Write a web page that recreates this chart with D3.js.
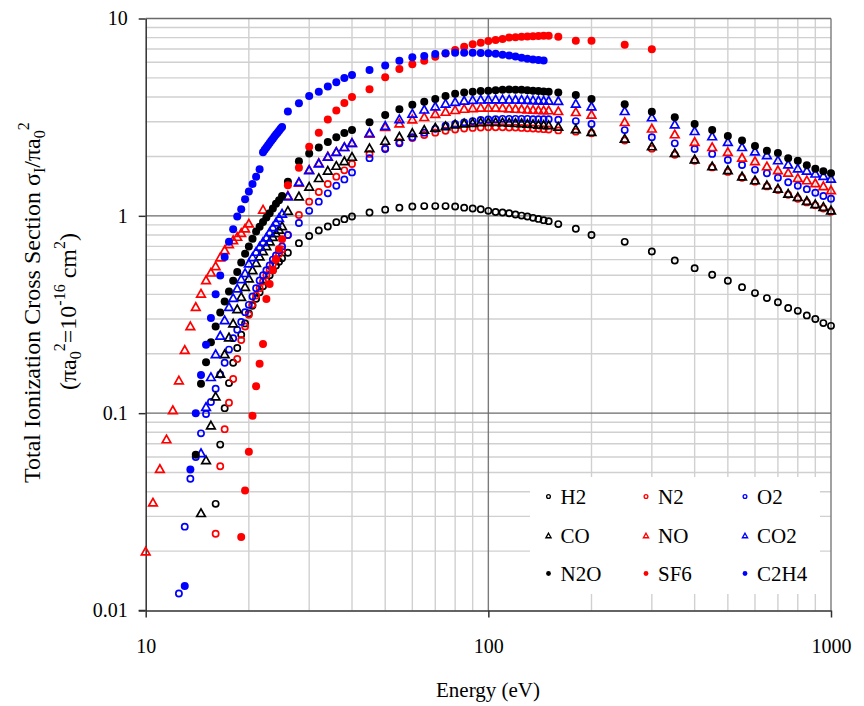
<!DOCTYPE html>
<html>
<head>
<meta charset="utf-8">
<script src="https://cdn.jsdelivr.net/npm/d3@7"></script>
<style>
  body { margin: 0; background: #fff; }
</style>
</head>
<body>
<svg id="chart" width="864" height="706"></svg>
<script>
// Electron energies (eV) shared by the series
const ENERGY_LOW = [10, 10.5, 11, 11.5, 12, 12.5, 13, 13.5, 14, 14.5, 15, 15.5, 16, 16.5, 17, 17.5,
  18, 18.5, 19, 19.5, 20, 20.5, 21, 21.5, 22, 22.5, 23, 23.5, 24, 24.5, 25];
const ENERGY_MID = [26, 28, 30, 32, 34, 36, 38, 40, 45, 50, 55, 60, 65, 70, 75, 80, 85, 90, 95, 100,
  105, 110, 115, 120, 125, 130, 135, 140, 145, 150];
const ENERGY_HIGH = [160, 180, 200, 250, 300, 350, 400, 450, 500, 550, 600, 650, 700, 750, 800, 850,
  900, 950, 1000];
const ENERGY_NO_LOW = [10, 10.5, 11, 11.5, 12, 12.5, 13, 13.5, 14, 14.5, 15, 15.5, 16, 16.5, 17, 17.5,
  18, 18.5, 19, 19.5, 20, 22];
const ENERGY_C2H4_LOW = [13, 13.5, 14, 14.5, 15, 15.5, 16, 16.5, 17, 17.5, 18, 18.5, 19, 19.5, 20,
  20.5, 21, 21.5, 22, 22.25, 22.5, 22.75, 23, 23.25, 23.5, 23.75, 24, 24.25, 24.5, 24.75, 25];

// Total ionization cross sections (units of pi a0^2)
const H2_LOW = [0.0347, 0.0693, 0.106, 0.142, 0.18, 0.214, 0.25, 0.285, 0.32, 0.35, 0.38, 0.41, 0.44,
  0.47, 0.5, 0.53, 0.56, 0.585, 0.61];
const H2_MID = [0.65, 0.727, 0.79, 0.842, 0.883, 0.929, 0.962, 0.992, 1.04, 1.075, 1.1, 1.115, 1.12,
  1.12, 1.12, 1.115, 1.1, 1.09, 1.08, 1.06, 1.045, 1.04, 1.03, 1.015, 1.003, 0.992, 0.977, 0.965, 0.951, 0.94];
const H2_HIGH = [0.908, 0.86, 0.8, 0.738, 0.66, 0.594, 0.543, 0.503, 0.469, 0.435, 0.406, 0.383, 0.365,
  0.341, 0.33, 0.313, 0.3, 0.286, 0.277];

const N2_LOW = [0.0245, 0.0538, 0.083, 0.113, 0.149, 0.188, 0.235, 0.275, 0.315, 0.355, 0.395, 0.43,
  0.465, 0.5, 0.535, 0.57, 0.605, 0.64, 0.675];
const N2_MID = [0.8, 1.01, 1.18, 1.32, 1.45, 1.58, 1.7, 1.83, 2.06, 2.2, 2.36, 2.48, 2.57, 2.64, 2.7,
  2.74, 2.77, 2.79, 2.8, 2.81, 2.81, 2.81, 2.8, 2.8, 2.79, 2.78, 2.77, 2.76, 2.75, 2.74];
const N2_HIGH = [2.71, 2.67, 2.62, 2.41, 2.19, 2.04, 1.9, 1.76, 1.67, 1.56, 1.49, 1.41, 1.35, 1.28,
  1.22, 1.17, 1.13, 1.09, 1.05];

const O2_LOW = [0.0122, 0.0266, 0.0465, 0.06, 0.079, 0.099, 0.114, 0.133, 0.157, 0.18, 0.21, 0.24,
  0.265, 0.29, 0.325, 0.354, 0.39, 0.43, 0.47, 0.5, 0.53, 0.56, 0.6, 0.63, 0.67, 0.7];
const O2_MID = [0.8, 0.92, 1.06, 1.18, 1.3, 1.42, 1.53, 1.66, 1.96, 2.18, 2.33, 2.5, 2.64, 2.76, 2.86,
  2.92, 2.97, 3.02, 3.06, 3.08, 3.09, 3.1, 3.1, 3.1, 3.1, 3.1, 3.09, 3.09, 3.09, 3.09];
const O2_HIGH = [3.07, 3.02, 2.92, 2.72, 2.5, 2.33, 2.18, 2.06, 1.92, 1.81, 1.71, 1.645, 1.56, 1.48,
  1.42, 1.365, 1.31, 1.26, 1.22];

const CO_LOW = [0.0313, 0.058, 0.087, 0.122, 0.159, 0.2, 0.243, 0.286, 0.338, 0.39, 0.438, 0.484,
  0.533, 0.58, 0.625, 0.665, 0.705, 0.745, 0.785, 0.82, 0.855, 0.89];
const CO_MID = [1.065, 1.26, 1.41, 1.56, 1.7, 1.8, 1.9, 2.0, 2.21, 2.41, 2.53, 2.64, 2.74, 2.81, 2.86,
  2.92, 2.95, 2.97, 2.99, 3.0, 3.0, 2.99, 2.98, 2.97, 2.96, 2.94, 2.93, 2.91, 2.9, 2.89];
const CO_HIGH = [2.84, 2.76, 2.67, 2.47, 2.26, 2.09, 1.94, 1.79, 1.71, 1.59, 1.52, 1.435, 1.38, 1.3,
  1.25, 1.195, 1.15, 1.115, 1.07];

const NO_LOW = [0.02, 0.0354, 0.0524, 0.074, 0.104, 0.147, 0.21, 0.277, 0.347, 0.405, 0.474, 0.518,
  0.558, 0.618, 0.673, 0.722, 0.756, 0.786, 0.823, 0.866, 0.918, 1.08];
const NO_MID = [1.27, 1.48, 1.72, 1.86, 2.01, 2.12, 2.24, 2.35, 2.62, 2.83, 2.95, 3.09, 3.18, 3.3, 3.38,
  3.45, 3.5, 3.53, 3.55, 3.55, 3.55, 3.54, 3.52, 3.5, 3.49, 3.47, 3.46, 3.45, 3.44, 3.44];
const NO_HIGH = [3.41, 3.37, 3.27, 3.0, 2.78, 2.6, 2.38, 2.24, 2.115, 1.98, 1.9, 1.79, 1.71, 1.66,
  1.56, 1.52, 1.47, 1.42, 1.354];

const CO2_LOW = [0.063, 0.108, 0.153, 0.2, 0.248, 0.297, 0.347, 0.385, 0.43, 0.48, 0.515, 0.576, 0.62,
  0.66, 0.7, 0.74, 0.78, 0.83, 0.88, 0.93, 0.98, 1.03];
const CO2_MID = [1.26, 1.49, 1.71, 1.85, 2.0, 2.115, 2.24, 2.35, 2.64, 2.87, 3.1, 3.31, 3.47, 3.6, 3.72,
  3.79, 3.85, 3.88, 3.9, 3.91, 3.91, 3.91, 3.9, 3.9, 3.89, 3.88, 3.87, 3.86, 3.85, 3.85];
const CO2_HIGH = [3.84, 3.72, 3.6, 3.41, 3.17, 2.92, 2.7, 2.54, 2.38, 2.24, 2.13, 2.04, 1.92, 1.83,
  1.745, 1.7, 1.645, 1.6, 1.55];

const N2O_LOW = [0.0616, 0.141, 0.181, 0.229, 0.275, 0.324, 0.368, 0.414, 0.469, 0.519, 0.58, 0.642,
  0.7, 0.765, 0.833, 0.88, 0.93, 0.98, 1.03, 1.09, 1.15, 1.2, 1.26];
const N2O_MID = [1.49, 1.89, 2.07, 2.22, 2.37, 2.5, 2.63, 2.72, 2.98, 3.24, 3.47, 3.65, 3.79, 3.91,
  4.05, 4.15, 4.22, 4.26, 4.29, 4.3, 4.33, 4.35, 4.37, 4.36, 4.35, 4.33, 4.31, 4.29, 4.27, 4.25];
const N2O_HIGH = [4.22, 4.1, 3.91, 3.68, 3.37, 3.16, 2.92, 2.72, 2.54, 2.41, 2.26, 2.14, 2.08, 1.96,
  1.9, 1.805, 1.73, 1.68, 1.645];

const SF6_LOW = [0.0236, 0.0406, 0.0637, 0.097, 0.137, 0.178, 0.224, 0.379, 0.451, 0.53, 0.6, 0.68, 0.76];
const SF6_MID = [1.43, 1.75, 2.24, 2.64, 3.08, 3.42, 3.73, 4.0, 4.38, 5.04, 5.54, 5.86, 6.1, 6.4, 6.65,
  6.93, 7.2, 7.4, 7.54, 7.69, 7.79, 7.87, 8.0, 8.03, 8.09, 8.1, 8.13, 8.16, 8.18, 8.18];
const SF6_HIGH = [8.09, 7.72, 7.72, 7.37, 6.98];

const C2H4_LOW = [0.0133, 0.0518, 0.1, 0.156, 0.222, 0.304, 0.4, 0.499, 0.618, 0.74, 0.856, 0.992,
  1.08, 1.215, 1.33, 1.45, 1.58, 1.72, 2.1, 2.16, 2.22, 2.28, 2.34, 2.4, 2.46, 2.52, 2.58, 2.64, 2.7,
  2.76, 2.82];
const C2H4_MID = [3.38, 3.72, 4.05, 4.26, 4.52, 4.75, 5.0, 5.17, 5.49, 5.78, 6.11, 6.36, 6.45, 6.6,
  6.67, 6.7, 6.7, 6.7, 6.68, 6.66, 6.62, 6.56, 6.5, 6.41, 6.33, 6.26, 6.2, 6.16, 6.12];

const X_TICKS = [10, 100, 1000];
const X_TICK_LABELS = ["10", "100", "1000"];
const Y_TICKS = [0.01, 0.1, 1, 10];
const Y_TICK_LABELS = ["0.01", "0.1", "1", "10"];

const FONT = "Liberation Serif";
const from = (e) => ENERGY_LOW.slice(ENERGY_LOW.indexOf(e));

// series in legend order; energy list and value list are zipped point by point
const series = [
  { name: "H2",   color: "#000000", shape: "circle",   filled: false, E: [...from(16), ...ENERGY_MID, ...ENERGY_HIGH], V: [...H2_LOW, ...H2_MID, ...H2_HIGH] },
  { name: "N2",   color: "#ff0000", shape: "circle",   filled: false, E: [...from(16), ...ENERGY_MID, ...ENERGY_HIGH], V: [...N2_LOW, ...N2_MID, ...N2_HIGH] },
  { name: "O2",   color: "#0000ff", shape: "circle",   filled: false, E: [...from(12.5), ...ENERGY_MID, ...ENERGY_HIGH], V: [...O2_LOW, ...O2_MID, ...O2_HIGH] },
  { name: "CO",   color: "#000000", shape: "triangle", filled: false, E: [...from(14.5), ...ENERGY_MID, ...ENERGY_HIGH], V: [...CO_LOW, ...CO_MID, ...CO_HIGH] },
  { name: "NO",   color: "#ff0000", shape: "triangle", filled: false, E: [...ENERGY_NO_LOW, ...ENERGY_MID, ...ENERGY_HIGH], V: [...NO_LOW, ...NO_MID, ...NO_HIGH] },
  { name: "CO2",  color: "#0000ff", shape: "triangle", filled: false, E: [...from(14.5), ...ENERGY_MID, ...ENERGY_HIGH], V: [...CO2_LOW, ...CO2_MID, ...CO2_HIGH] },
  { name: "N2O",  color: "#000000", shape: "circle",   filled: true,  E: [...from(14), ...ENERGY_MID, ...ENERGY_HIGH], V: [...N2O_LOW, ...N2O_MID, ...N2O_HIGH] },
  { name: "SF6",  color: "#ff0000", shape: "circle",   filled: true,  E: [...from(19), ...ENERGY_MID, ...ENERGY_HIGH], V: [...SF6_LOW, ...SF6_MID, ...SF6_HIGH] },
  { name: "C2H4", color: "#0000ff", shape: "circle",   filled: true,  E: [...ENERGY_C2H4_LOW, ...ENERGY_MID], V: [...C2H4_LOW, ...C2H4_MID] }
];
series.forEach(s => {
  const n = Math.min(s.E.length, s.V.length);
  s.points = d3.range(n).map(i => ({ e: s.E[i], v: s.V[i] }));
});

const svg = d3.select("#chart");
const x = d3.scaleLog().domain([10, 1000]).range([145.7, 831]);
const y = d3.scaleLog().domain([0.01, 10]).range([610.5, 18.5]);

// grid
const minorX = [];
[10, 100].forEach(d => { for (let k = 2; k <= 9; k++) minorX.push(d * k); });
const minorY = [];
[0.01, 0.1, 1].forEach(d => { for (let k = 2; k <= 9; k++) minorY.push(d * k); });

const grid = svg.append("g");
grid.selectAll(".mx").data(minorX).join("line")
  .attr("x1", d => x(d)).attr("x2", d => x(d)).attr("y1", y(10)).attr("y2", y(0.01))
  .attr("stroke", "#d0d0d0").attr("stroke-width", 1.4);
grid.selectAll(".my").data(minorY).join("line")
  .attr("x1", x(10)).attr("x2", x(1000)).attr("y1", d => y(d)).attr("y2", d => y(d))
  .attr("stroke", "#d0d0d0").attr("stroke-width", 1.4);
grid.selectAll(".Mx").data([100, 1000]).join("line")
  .attr("x1", d => x(d)).attr("x2", d => x(d)).attr("y1", y(10)).attr("y2", y(0.01))
  .attr("stroke", "#7a7a7a").attr("stroke-width", 1.4);
grid.selectAll(".My").data([0.1, 1, 10]).join("line")
  .attr("x1", x(10)).attr("x2", x(1000)).attr("y1", d => y(d)).attr("y2", d => y(d))
  .attr("stroke", "#6a6a6a").attr("stroke-width", 1.4);

// axes
const fmtX = d => X_TICK_LABELS[X_TICKS.indexOf(d)];
const fmtY = d => Y_TICK_LABELS[Y_TICKS.findIndex(t => Math.abs(t - d) < 1e-9)];

const xAxis = svg.append("g").attr("transform", `translate(0,${y(0.01)})`)
  .call(d3.axisBottom(x).tickValues(X_TICKS).tickFormat(fmtX).tickSize(7).tickSizeOuter(0).tickPadding(21));
const yAxis = svg.append("g").attr("transform", `translate(${x(10)},0)`)
  .call(d3.axisLeft(y).tickValues(Y_TICKS).tickFormat(fmtY).tickSize(7).tickSizeOuter(0).tickPadding(11));
[xAxis, yAxis].forEach(a => {
  a.attr("font-family", FONT).attr("font-size", 20);
  a.select(".domain").attr("stroke", "#303030").attr("stroke-width", 1.5);
  a.selectAll(".tick line").attr("stroke", "#303030").attr("stroke-width", 1.5);
  a.selectAll("text").attr("font-size", 20).attr("font-family", FONT).attr("fill", "#000");
});
// extend the bottom axis line through the corner tick
svg.append("line").attr("x1", x(10) - 7).attr("x2", x(10)).attr("y1", y(0.01)).attr("y2", y(0.01))
  .attr("stroke", "#303030").attr("stroke-width", 1.5);

// markers
function triPath(w, h) {
  return `M0,${-h / 2}L${w / 2},${h / 2}L${-w / 2},${h / 2}Z`;
}
function drawMarker(g, s, scale) {
  if (s.shape === "triangle") {
    g.append("path").attr("d", triPath(8.6 * scale, 7.6 * scale))
      .attr("fill", "none").attr("stroke", s.color).attr("stroke-width", 1.7 * Math.max(scale, 0.8))
      .attr("stroke-linejoin", "miter");
  } else if (s.filled) {
    g.append("circle").attr("r", 4 * scale).attr("fill", s.color);
  } else {
    g.append("circle").attr("r", 3.1 * scale).attr("fill", "none")
      .attr("stroke", s.color).attr("stroke-width", 1.7 * Math.max(scale, 0.8));
  }
}

const plot = svg.append("g");
series.forEach(s => {
  const gs = plot.append("g");
  s.points.forEach(p => {
    const m = gs.append("g").attr("transform", `translate(${x(p.e)},${y(p.v)})`);
    drawMarker(m, s, 1);
  });
});

// legend
const legend = svg.append("g");
legend.append("rect").attr("x", 530).attr("y", 477).attr("width", 290).attr("height", 117).attr("fill", "#fff");
const colX = [548.5, 646, 745];
const rowY = [496.5, 535.5, 573.5];
series.forEach((s, i) => {
  const cx = colX[i % 3], cy = rowY[Math.floor(i / 3)];
  const m = legend.append("g").attr("transform", `translate(${cx},${cy})`);
  drawMarker(m, s, 0.6);
  legend.append("text").attr("x", cx + 12).attr("y", cy + 7)
    .attr("font-size", 21).attr("font-family", FONT).text(s.name);
});

// axis titles
svg.append("text").attr("x", 488).attr("y", 697).attr("text-anchor", "middle")
  .attr("font-size", 21).attr("font-family", FONT).text("Energy (eV)");

const t1 = svg.append("text").attr("transform", "translate(40,483) rotate(-90)")
  .attr("text-anchor", "start").attr("font-size", 24).attr("font-family", FONT);
t1.append("tspan").text("Total Ionization Cross Section σ");
t1.append("tspan").attr("font-size", 16).attr("dy", 5).text("I");
t1.append("tspan").attr("dy", -5).text("/πa");
t1.append("tspan").attr("font-size", 16).attr("dy", 5).text("0");
t1.append("tspan").attr("font-size", 16).attr("dy", -16).text("2");

const t2 = svg.append("text").attr("transform", "translate(76,390) rotate(-90)")
  .attr("text-anchor", "start").attr("font-size", 24).attr("font-family", FONT);
t2.append("tspan").text("(πa");
t2.append("tspan").attr("font-size", 16).attr("dy", 5).text("0");
t2.append("tspan").attr("font-size", 16).attr("dy", -16).text("2");
t2.append("tspan").attr("dy", 11).text("=10");
t2.append("tspan").attr("font-size", 16).attr("dy", -11).text("-16");
t2.append("tspan").attr("dy", 11).text(" cm");
t2.append("tspan").attr("font-size", 16).attr("dy", -11).text("2");
t2.append("tspan").attr("dy", 11).text(")");
</script>
</body>
</html>
